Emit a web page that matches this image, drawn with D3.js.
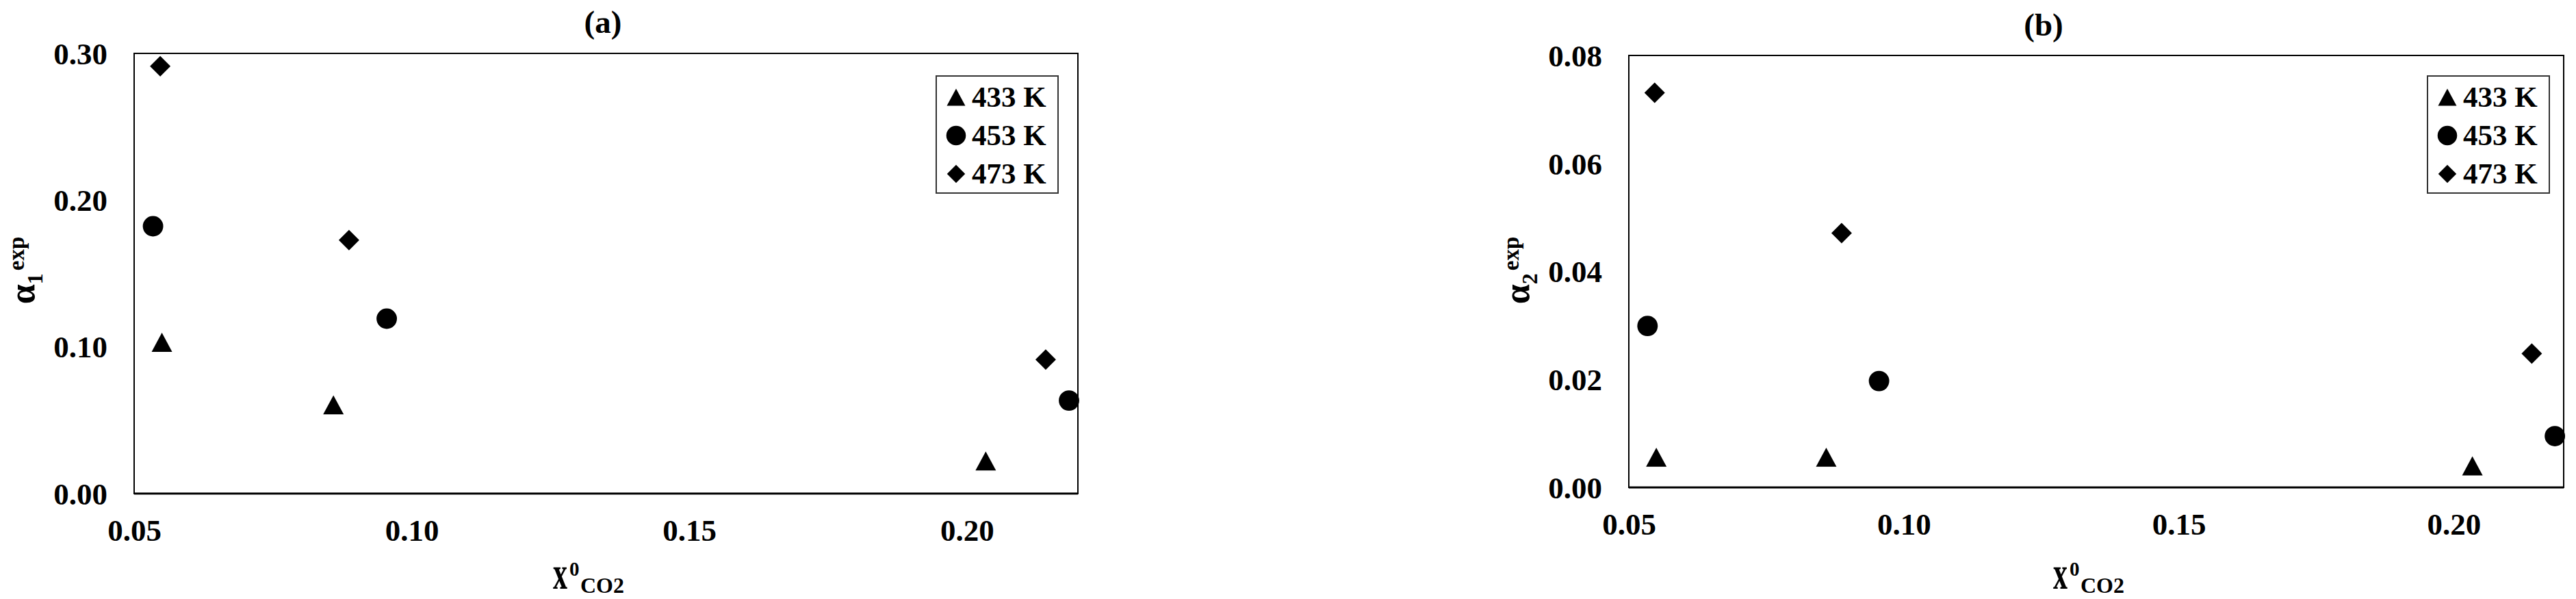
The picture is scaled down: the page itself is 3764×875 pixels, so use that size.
<!DOCTYPE html>
<html>
<head>
<meta charset="utf-8">
<script src="https://cdnjs.cloudflare.com/ajax/libs/d3/7.8.5/d3.min.js"></script>
<style>
  body { margin: 0; background: #fff; }
  svg { display: block; }
  text { font-family: "Times New Roman", "Liberation Serif", serif; font-weight: bold; fill: #000; }
</style>
</head>
<body>
<svg id="chart" width="3764" height="875"></svg>
<script>
// data
var seriesNames = ["433 K", "453 K", "473 K"];
var xCO2_433 = [0.0550, 0.0859, 0.2034];
var xCO2_453 = [0.0534, 0.0955, 0.2184];
var xCO2_473 = [0.0547, 0.0887, 0.2142];
var alpha1_433 = [0.1031, 0.0605, 0.0222];
var alpha1_453 = [0.1822, 0.1192, 0.0634];
var alpha1_473 = [0.2912, 0.1727, 0.0913];
var alpha2_433 = [0.0056, 0.0056, 0.0040];
var alpha2_453 = [0.0299, 0.0197, 0.0095];
var alpha2_473 = [0.0731, 0.0471, 0.0248];
var xTicks = [0.05, 0.10, 0.15, 0.20];
var alpha1Ticks = [0.00, 0.10, 0.20, 0.30];
var alpha2Ticks = [0.00, 0.02, 0.04, 0.06, 0.08];
var xDomain = [0.05, 0.22];

var svg = d3.select("#chart");

// excel style markers, centred on their box
var triangle = {
	draw: function(ctx, size) {
		var w = Math.sqrt(size), h = w * 0.93;
		ctx.moveTo(0, -h / 2);
		ctx.lineTo(w / 2, h / 2);
		ctx.lineTo(-w / 2, h / 2);
		ctx.closePath();
	}
};
var diamond = {
	draw: function(ctx, size) {
		var r = Math.sqrt(size) / 2;
		ctx.moveTo(0, -r);
		ctx.lineTo(r, 0);
		ctx.lineTo(0, r);
		ctx.lineTo(-r, 0);
		ctx.closePath();
	}
};
var shapes = [triangle, d3.symbolCircle, diamond];
var plotSizes = [900, 700, 900];
var legendSizes = [729, 640, 700];

var panels = [
	{
		title: "(a)", titleX: 881, titleY: 48,
		left: 196, right: 1575, top: 78, bottom: 721,
		yDomain: [0, 0.30], yTicks: alpha1Ticks, sub: "1",
		ys: [alpha1_433, alpha1_453, alpha1_473],
		yLabelX: 50, xLabelX: 808,
		legendX: 1368, legendY: 111
	},
	{
		title: "(b)", titleX: 2986, titleY: 52,
		left: 2380, right: 3746, top: 81, bottom: 712,
		yDomain: [0, 0.08], yTicks: alpha2Ticks, sub: "2",
		ys: [alpha2_433, alpha2_453, alpha2_473],
		yLabelX: 2234, xLabelX: 3000,
		legendX: 3547, legendY: 111
	}
];
var xs = [xCO2_433, xCO2_453, xCO2_473];

panels.forEach(function(p) {
	var g = svg.append("g");

	var x = d3.scaleLinear().domain(xDomain).range([p.left, p.right]);
	var y = d3.scaleLinear().domain(p.yDomain).range([p.bottom, p.top]);

	// frame
	g.append("rect")
		.attr("x", p.left).attr("y", p.top)
		.attr("width", p.right - p.left).attr("height", p.bottom - p.top)
		.style("fill", "none").style("stroke", "#000").style("stroke-width", 2);
	g.append("line")
		.attr("x1", p.left).attr("x2", p.right)
		.attr("y1", p.bottom).attr("y2", p.bottom)
		.style("stroke", "#000").style("stroke-width", 3);

	// axes, labels only
	var yAxis = g.append("g")
		.attr("transform", "translate(" + p.left + ",0)")
		.call(d3.axisLeft(y).tickValues(p.yTicks).tickSize(0).tickPadding(39)
			.tickFormat(d3.format(".2f")));
	var xAxis = g.append("g")
		.attr("transform", "translate(0," + p.bottom + ")")
		.call(d3.axisBottom(x).tickValues(xTicks).tickSize(0).tickPadding(0)
			.tickFormat(d3.format(".2f")));
	[yAxis, xAxis].forEach(function(a) {
		a.select(".domain").remove();
		a.selectAll("text")
			.style("font-family", "'Times New Roman', 'Liberation Serif', serif")
			.style("font-weight", "bold")
			.style("font-size", "45px")
			.attr("fill", "#000");
	});
	yAxis.selectAll("text").attr("dy", "0.34em");
	xAxis.selectAll("text").attr("y", 69).attr("dy", 0);

	// title
	g.append("text")
		.attr("x", p.titleX).attr("y", p.titleY)
		.attr("text-anchor", "middle")
		.style("font-size", "47px")
		.text(p.title);

	// y label  alpha_n^exp
	var yl = g.append("text")
		.attr("transform", "translate(" + p.yLabelX + ",395) rotate(-90)")
		.attr("text-anchor", "middle");
	yl.append("tspan").style("font-size", "52px").text("α");
	yl.append("tspan").style("font-size", "32px").attr("dy", 12).text(p.sub);
	yl.append("tspan").style("font-size", "33px").attr("dx", 4).attr("dy", -27).text("exp");

	// x label  x^0_CO2
	g.append("text")
		.attr("transform", "translate(" + p.xLabelX + ",860) scale(1,1.6)")
		.style("font-size", "42px")
		.text("x");
	g.append("text")
		.attr("x", p.xLabelX + 24).attr("y", 841)
		.style("font-size", "29px")
		.text("0");
	g.append("text")
		.attr("x", p.xLabelX + 40).attr("y", 866)
		.style("font-size", "32px")
		.text("CO2");

	// points
	seriesNames.forEach(function(name, i) {
		var pts = xs[i].map(function(v, j) { return [v, p.ys[i][j]]; });
		g.selectAll(".pt" + i)
			.data(pts)
			.enter()
			.append("path")
			.attr("class", "pt" + i)
			.attr("d", d3.symbol().type(shapes[i]).size(plotSizes[i]))
			.attr("transform", function(d) {
				return "translate(" + x(d[0]) + "," + y(d[1]) + ")";
			})
			.style("fill", "#000");
	});

	// legend
	var lg = g.append("g").attr("transform", "translate(" + p.legendX + "," + p.legendY + ")");
	lg.append("rect")
		.attr("width", 178).attr("height", 171)
		.style("fill", "#fff").style("stroke", "#333").style("stroke-width", 2);
	seriesNames.forEach(function(name, i) {
		var cy = 31 + i * 56;
		lg.append("path")
			.attr("d", d3.symbol().type(shapes[i]).size(legendSizes[i]))
			.attr("transform", "translate(29," + cy + ")")
			.style("fill", "#000");
		lg.append("text")
			.attr("x", 52).attr("y", cy + 14)
			.style("font-size", "43px")
			.text(name);
	});
});
</script>
</body>
</html>
